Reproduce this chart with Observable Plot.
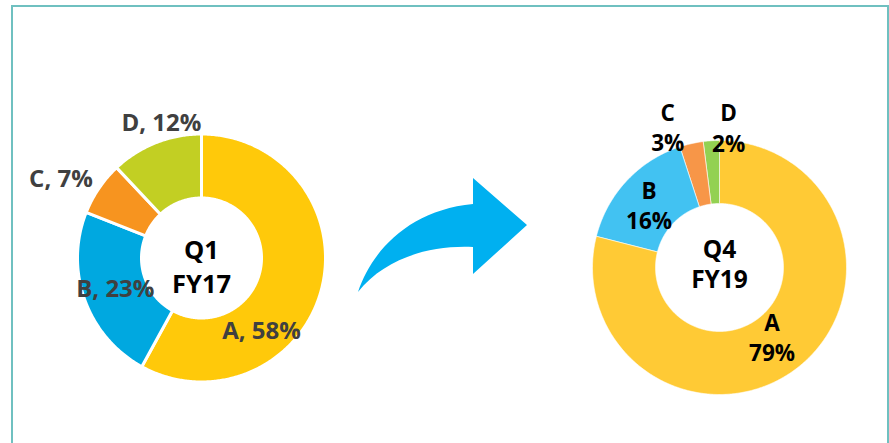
<!DOCTYPE html>
<html>
<head>
<meta charset="utf-8">
<script src="https://cdn.jsdelivr.net/npm/d3@7"></script>
<script src="https://cdn.jsdelivr.net/npm/@observablehq/plot@0.6"></script>
<style>
  html, body { margin: 0; padding: 0; background: #ffffff; }
  #wrap { position: relative; width: 889px; height: 443px; overflow: hidden; }
  #wrap svg { position: absolute; left: 0; top: 0; }
</style>
</head>
<body>
<div id="wrap"></div>
<script>
// ---- Data ----
const categories = ["A", "B", "C", "D"];
const q1fy17Values = [58, 23, 7, 12];
const q4fy19Values = [79, 16, 3, 2];
const q1fy17Colors = ["#FFC90A", "#00A8E0", "#F7941F", "#C2CF23"];
const q4fy19Colors = ["#FFCA35", "#42C2F2", "#F79648", "#93D152"];
const centerTitles = ["Q1\nFY17", "Q4\nFY19"];

// ---- Layout (not data) ----
const donuts = [
  {cx: 201, cy: 257.5, r0: 60, r1: 124, values: q1fy17Values, colors: q1fy17Colors, title: centerTitles[0],
   sep: 3, labelColor: "#404040", labelFmt: (c, v) => `${c}, ${v}%`,
   labelPos: [[36.4, 95], [0, 91.6], [-5, 161], [5, 140.5]], titleDy: 7},
  {cx: 719, cy: 267, r0: 64, r1: 127, values: q4fy19Values, colors: q4fy19Colors, title: centerTitles[1],
   sep: 0.6, labelColor: "#000000", labelFmt: (c, v) => `${c}\n${v}%`,
   labelPos: [[0.5, 86.7], [-1.4, 94.5], [-7.6, 150], [7.3, 141]], titleDy: -4}
];

const arcPoints = [];
const labels = [];
const titles = [];
donuts.forEach((d, di) => {
  const total = d3.sum(d.values);
  let acc = 0;
  d.values.forEach((v, i) => {
    const a0 = acc / total * 2 * Math.PI;
    const a1 = (acc + v) / total * 2 * Math.PI;
    acc += v;
    const key = `${di}-${categories[i]}`;
    const n = Math.max(4, Math.ceil((a1 - a0) / 0.01));
    for (let k = 0; k <= n; k++) {
      const a = a0 + (a1 - a0) * k / n;
      arcPoints.push({key, color: d.colors[i], sep: d.sep, x: d.cx + d.r1 * Math.sin(a), y: d.cy - d.r1 * Math.cos(a)});
    }
    for (let k = n; k >= 0; k--) {
      const a = a0 + (a1 - a0) * k / n;
      arcPoints.push({key, color: d.colors[i], sep: d.sep, x: d.cx + d.r0 * Math.sin(a), y: d.cy - d.r0 * Math.cos(a)});
    }
    const mid = (a0 + a1) / 2 + d.labelPos[i][0] * Math.PI / 180;
    const lr = d.labelPos[i][1];
    labels.push({donut: di, text: d.labelFmt(categories[i], v), color: d.labelColor,
      x: d.cx + lr * Math.sin(mid), y: d.cy - lr * Math.cos(mid)});
  });
  titles.push({donut: di, text: d.title, x: d.cx, y: d.cy + d.titleDy});
});

const font = "'Open Sans', sans-serif";
const chart = Plot.plot({
  width: 889,
  height: 443,
  margin: 0,
  style: {background: "transparent", fontFamily: font},
  x: {domain: [0, 889], range: [0, 889], axis: null},
  y: {domain: [0, 443], range: [0, 443], axis: null},
  color: {type: "identity"},
  marks: [
    Plot.line(arcPoints.filter(p => p.sep > 1), {x: "x", y: "y", z: "key", fill: "color", stroke: "white", strokeWidth: 3, curve: "linear-closed"}),
    Plot.line(arcPoints.filter(p => p.sep <= 1), {x: "x", y: "y", z: "key", fill: "color", stroke: "white", strokeWidth: 0.6, curve: "linear-closed"}),
    Plot.text(labels.filter(l => l.donut === 0), {x: "x", y: "y", text: "text", fill: "color", fontSize: 24, fontWeight: "bold", fontFamily: font}),
    Plot.text(labels.filter(l => l.donut === 1), {x: "x", y: "y", text: "text", fill: "color", fontSize: 22.5, fontWeight: "bold", fontFamily: font, lineHeight: 1.34}),
    Plot.text(titles.filter(t => t.donut === 0), {x: "x", y: "y", text: "text", fill: "black", fontSize: 25.5, fontWeight: "bold", fontFamily: font, lineHeight: 1.33}),
    Plot.text(titles.filter(t => t.donut === 1), {x: "x", y: "y", text: "text", fill: "black", fontSize: 24.5, fontWeight: "bold", fontFamily: font, lineHeight: 1.24})
  ]
});

const wrap = document.getElementById("wrap");
// decorative frame and arrow
const deco = `<svg width="889" height="443" xmlns="http://www.w3.org/2000/svg">
  <path d="M12,443 L12,6 L888,6 L888,443" fill="none" stroke="#6FC0C0" stroke-width="2"/>
  <path d="M358,292 C372,250 410,210 473,204 L473,178 L527,225 L473,274 L473,247 C430,245 385,258 358,292 Z" fill="#00B0F0"/>
</svg>`;
wrap.innerHTML = deco;
wrap.appendChild(chart);
</script>
</body>
</html>
